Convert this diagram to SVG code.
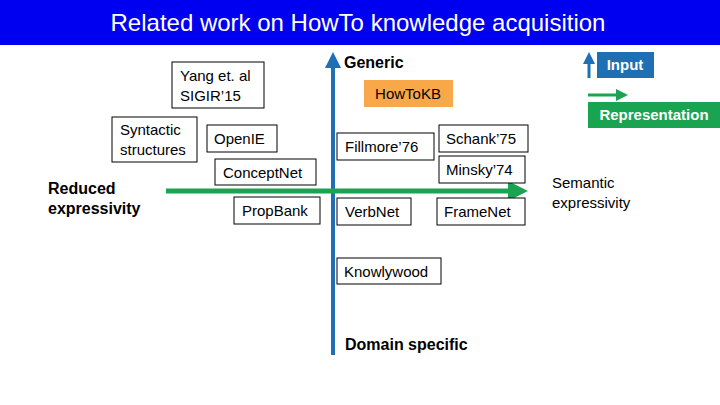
<svg xmlns="http://www.w3.org/2000/svg" width="720" height="405" viewBox="0 0 720 405">
<style>
text{font-family:"Liberation Sans",Arial,sans-serif;font-size:15px;fill:#000}
.b{font-weight:bold}
.box{fill:#fff;stroke:#000;stroke-width:1}
</style>
<defs>
<marker id="ab" markerWidth="4" markerHeight="4" refX="2" refY="2" orient="auto" markerUnits="strokeWidth"><path d="M0,0L4,2L0,4z" fill="#1f6fb5"/></marker>
<marker id="ag" markerWidth="4" markerHeight="4" refX="2" refY="2" orient="auto" markerUnits="strokeWidth"><path d="M0,0L4,2L0,4z" fill="#1aa350"/></marker>
</defs>
<rect width="720" height="405" fill="#fff"/>
<rect width="720" height="45" fill="#0000f0"/>
<text x="358" y="31" text-anchor="middle" style="font-size:24px;fill:#fff">Related work on HowTo knowledge acquisition</text>
<g id="connectors">
<line x1="333" y1="355" x2="333" y2="60" stroke="#1f6fb5" stroke-width="4" marker-end="url(#ab)"/>
<line x1="166" y1="191" x2="518" y2="191" stroke="#1aa350" stroke-width="5" marker-end="url(#ag)"/>
<line x1="589" y1="78" x2="589" y2="58" stroke="#1f6fb5" stroke-width="3" marker-end="url(#ab)"/>
<line x1="588" y1="95" x2="622" y2="95" stroke="#1aa350" stroke-width="3" marker-end="url(#ag)"/>
</g>
<g id="legend-input"><rect x="597" y="52" width="57" height="26" fill="#1f6fb5"/><text x="625" y="70" text-anchor="middle" class="b" style="fill:#fff">Input</text></g>
<g id="legend-rep"><rect x="588" y="102" width="132" height="26" fill="#1aa350"/><text x="654" y="120" text-anchor="middle" class="b" style="fill:#fff">Representation</text></g>
<g id="generic"><text x="344" y="68" class="b" style="font-size:16px">Generic</text></g>
<g id="domain"><text x="345" y="350" class="b" style="font-size:16px">Domain specific</text></g>
<g id="reduced"><text x="48" y="194" class="b" style="font-size:16px">Reduced</text><text x="48" y="214" class="b" style="font-size:16px">expressivity</text></g>
<g id="semantic"><text x="552" y="188">Semantic</text><text x="552" y="208">expressivity</text></g>
<g id="yang"><rect class="box" x="172" y="62" width="92" height="46"/><text x="180" y="81">Yang et. al</text><text x="180" y="101">SIGIR’15</text></g>
<g id="syntactic"><rect class="box" x="112" y="117" width="85" height="45"/><text x="120" y="135">Syntactic</text><text x="120" y="155">structures</text></g>
<g id="openie"><rect class="box" x="207" y="125" width="70" height="27"/><text x="214" y="144">OpenIE</text></g>
<g id="conceptnet"><rect class="box" x="215" y="159" width="101" height="26"/><text x="223" y="178">ConceptNet</text></g>
<g id="propbank"><rect class="box" x="234" y="197" width="86" height="27"/><text x="242" y="216">PropBank</text></g>
<g id="howtokb"><rect x="364" y="80" width="89" height="27" fill="#f8a848"/><text x="408" y="99" text-anchor="middle">HowToKB</text></g>
<g id="fillmore"><rect class="box" x="337" y="133" width="97" height="27"/><text x="345" y="152">Fillmore’76</text></g>
<g id="schank"><rect class="box" x="439" y="125" width="89" height="27"/><text x="446" y="144">Schank’75</text></g>
<g id="minsky"><rect class="box" x="439" y="156" width="86" height="27"/><text x="446" y="175">Minsky’74</text></g>
<g id="verbnet"><rect class="box" x="337" y="198" width="74" height="27"/><text x="345" y="217">VerbNet</text></g>
<g id="framenet"><rect class="box" x="437" y="198" width="88" height="27"/><text x="444" y="217">FrameNet</text></g>
<g id="knowlywood"><rect class="box" x="337" y="258" width="104" height="26"/><text x="344" y="277">Knowlywood</text></g>
</svg>
